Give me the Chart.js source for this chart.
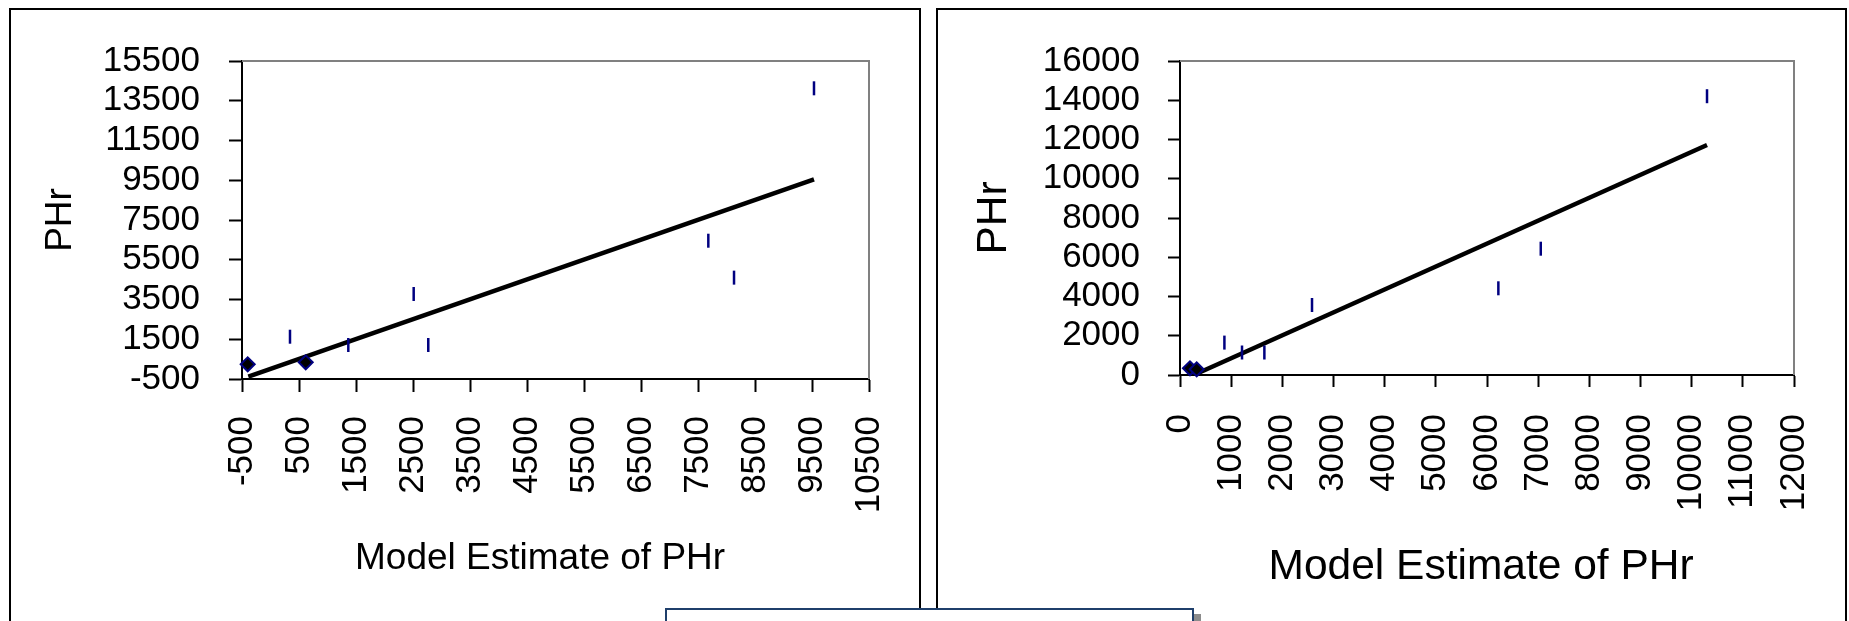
<!DOCTYPE html>
<html>
<head>
<meta charset="utf-8">
<script src="https://cdn.jsdelivr.net/npm/chart.js"></script>
<style>
  body { margin: 0; background: #fff; width: 1849px; height: 621px; overflow: hidden; position: relative; }
  .panel { position: absolute; top: 8px; height: 700px; border: 2px solid #000; box-sizing: border-box; }
  #panelA { left: 9px; width: 912px; }
  #panelB { left: 936px; width: 911px; }
  canvas { position: absolute; top: 0; }
  #chartA { left: 0; }
  #chartB { left: 925px; }
  #note { position: absolute; left: 665px; top: 608px; width: 529px; height: 60px; background: #fff;
          border: 2px solid #1f3f6b; box-sizing: border-box; box-shadow: 7px 6px 0 #8c8c8c; }
</style>
</head>
<body>
<div class="panel" id="panelA"></div>
<div class="panel" id="panelB"></div>
<canvas id="chartA" width="928" height="621"></canvas>
<canvas id="chartB" width="924" height="621"></canvas>
<div id="note"></div>

<script>
// left chart
const estA = [342, 1365, 2512, 2768, 7681, 8132, 9535];
const phrA = [1628, 1211, 3777, 1211, 6458, 4600, 14126];
const estA_low = [-400, 618];
const phrA_low = [240, 340];
const fitA_x = [-389, 9535];
const fitA_y = [-384, 9547];
const xTicksA = [-500, 500, 1500, 2500, 3500, 4500, 5500, 6500, 7500, 8500, 9500, 10500];
const yTicksA = [-500, 1500, 3500, 5500, 7500, 9500, 11500, 13500, 15500];

// right chart
const estB = [868, 1212, 1649, 2580, 6222, 7051, 10300];
const phrB = [1651, 1146, 1146, 3567, 4418, 6436, 14206];
const estB_low = [195, 326];
const phrB_low = [341, 290];
const fitB_x = [313, 10300];
const fitB_y = [51, 11720];
const xTicksB = [0, 1000, 2000, 3000, 4000, 5000, 6000, 7000, 8000, 9000, 10000, 11000, 12000];
const yTicksB = [0, 2000, 4000, 6000, 8000, 10000, 12000, 14000, 16000];

const xTitle = 'Model Estimate of PHr';
const yTitle = 'PHr';

const pts = (xs, ys) => xs.map((x, i) => ({x: x, y: ys[i]}));

// gray top/right edge of the plot area
const frame = {
    id: 'frame',
    beforeDatasetsDraw(chart) {
        const {ctx, chartArea: a} = chart;
        ctx.save();
        ctx.strokeStyle = '#808080';
        ctx.lineWidth = 2;
        ctx.beginPath();
        ctx.moveTo(a.left, a.top);
        ctx.lineTo(a.right, a.top);
        ctx.lineTo(a.right, a.bottom);
        ctx.stroke();
        ctx.restore();
    }
};

function makeChart(id, s) {
    const ctx = document.getElementById(id).getContext('2d');
    const canvasH = 621;
    return new Chart(ctx, {
        type: 'scatter',
        data: {
            datasets: [{
                data: pts(s.lowX, s.lowY),
                pointStyle: 'rectRot',
                pointRadius: 7,
                pointBackgroundColor: '#000',
                pointBorderColor: '#000080',
                pointBorderWidth: 2,
                showLine: false,
                clip: false,
            }, {
                data: pts(s.x, s.y),
                pointStyle: 'line',
                rotation: 90,
                pointRadius: 7,
                pointBorderColor: '#000080',
                pointBorderWidth: 2.5,
                showLine: false,
                clip: false,
            }, {
                data: pts(s.fitX, s.fitY),
                showLine: true,
                borderColor: '#000',
                borderWidth: 4.5,
                pointRadius: 0,
                clip: false,
            }]
        },
        options: {
            responsive: false,
            animation: false,
            events: [],
            layout: {
                padding: {left: 0, top: s.area.top, right: s.canvasW - s.area.right, bottom: 0}
            },
            plugins: {
                legend: {display: false},
                tooltip: {enabled: false},
            },
            scales: {
                x: {
                    type: 'linear',
                    min: s.xTicks[0],
                    max: s.xTicks[s.xTicks.length - 1],
                    afterFit: (scale) => {
                        scale.height = canvasH - s.area.bottom;
                        scale.paddingLeft = 0;
                        scale.paddingRight = 0;
                    },
                    ticks: {
                        stepSize: s.xTicks[1] - s.xTicks[0],
                        autoSkip: false,
                        minRotation: 90,
                        maxRotation: 90,
                        padding: s.xPad,
                        color: '#000',
                        font: {family: 'Liberation Sans, Arial', size: s.tickSize},
                        callback: (v) => String(v),
                    },
                    grid: {drawOnChartArea: false, tickLength: s.tickLen, tickColor: '#000', tickWidth: 2},
                    border: {color: '#000', width: 2},
                    title: {
                        display: true,
                        text: s.xTitle,
                        color: '#000',
                        font: {family: 'Liberation Sans, Arial', size: s.titleSize},
                        padding: {top: 0, bottom: s.xTitleBottom},
                    },
                },
                y: {
                    type: 'linear',
                    min: s.yTicks[0],
                    max: s.yTicks[s.yTicks.length - 1],
                    afterFit: (scale) => {
                        scale.width = s.area.left;
                        scale.paddingTop = 0;
                        scale.paddingBottom = 0;
                    },
                    ticks: {
                        stepSize: s.yTicks[1] - s.yTicks[0],
                        autoSkip: false,
                        padding: s.yPad,
                        color: '#000',
                        font: {family: 'Liberation Sans, Arial', size: s.tickSize},
                        callback: (v) => String(v),
                    },
                    grid: {drawOnChartArea: false, tickLength: s.tickLen, tickColor: '#000', tickWidth: 2},
                    border: {color: '#000', width: 2},
                    title: {
                        display: true,
                        text: yTitle,
                        color: '#000',
                        font: {family: 'Liberation Sans, Arial', size: s.titleSize},
                        padding: {top: s.yTitleLeft, bottom: 0},
                    },
                },
            }
        },
        plugins: [frame]
    });
}

makeChart('chartA', {
    x: estA, y: phrA, lowX: estA_low, lowY: phrA_low, fitX: fitA_x, fitY: fitA_y,
    xTicks: xTicksA, yTicks: yTicksA,
    canvasW: 928, area: {left: 242, top: 61, right: 869, bottom: 379},
    tickSize: 35, titleSize: 37, tickLen: 13, xPad: 24, yPad: 29,
    xTitle: xTitle + '   ', xTitleBottom: 40, yTitleLeft: 39,
});

makeChart('chartB', {
    x: estB, y: phrB, lowX: estB_low, lowY: phrB_low, fitX: fitB_x, fitY: fitB_y,
    xTicks: xTicksB, yTicks: yTicksB,
    canvasW: 924, area: {left: 255, top: 61, right: 869, bottom: 375},
    tickSize: 35, titleSize: 42.5, tickLen: 12, xPad: 27, yPad: 28,
    xTitle: xTitle + ' ', xTitleBottom: 28, yTitleLeft: 44,
});
</script>
</body>
</html>
